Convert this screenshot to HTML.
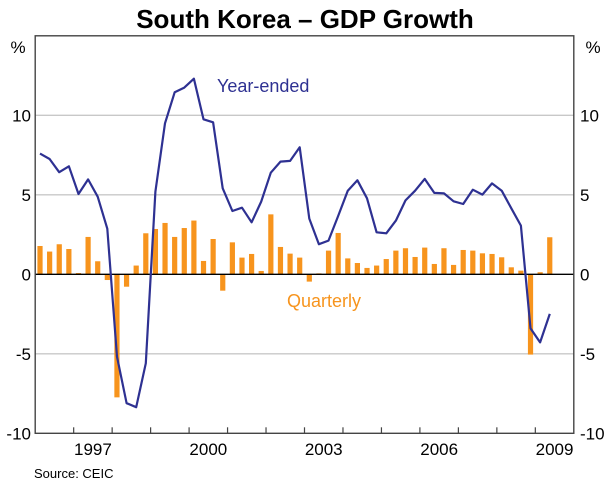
<!DOCTYPE html>
<html><head><meta charset="utf-8"><style>
html,body{margin:0;padding:0;background:#fff;}
svg{display:block;font-family:"Liberation Sans",Arial,sans-serif;}
</style></head><body>
<svg id="chart" width="610" height="485" viewBox="0 0 610 485" xmlns="http://www.w3.org/2000/svg">
<text x="305" y="28" text-anchor="middle" font-size="26" font-weight="bold" fill="#000">South Korea – GDP Growth</text>
<g id="grid"></g>
<g id="bars"></g>
<g id="lines"></g>
<g id="axes"></g>
<text x="217" y="92" font-size="18" fill="#2e3192">Year-ended</text>
<text x="287" y="307" font-size="18" fill="#f7941d">Quarterly</text>
<text x="34" y="478" font-size="13" fill="#000">Source: CEIC</text>
</svg>
<script>
const quarterly = [1.78,1.43,1.89,1.59,0.08,2.35,0.82,-0.36,-7.74,-0.78,0.55,2.58,2.85,3.23,2.35,2.91,3.38,0.84,2.22,-1.03,2.01,1.05,1.28,0.21,3.77,1.72,1.30,1.05,-0.46,0.06,1.49,2.6,1.0,0.71,0.4,0.55,0.96,1.49,1.64,1.09,1.68,0.65,1.64,0.59,1.53,1.49,1.32,1.28,1.07,0.44,0.23,-5.05,0.13,2.33];
const yearEnded = [7.59,7.25,6.42,6.79,5.05,5.97,4.88,2.87,-5.18,-8.11,-8.36,-5.6,5.2,9.5,11.45,11.74,12.3,9.75,9.56,5.41,3.98,4.19,3.27,4.57,6.39,7.09,7.13,7.99,3.5,1.89,2.12,3.67,5.26,5.91,4.78,2.64,2.58,3.38,4.65,5.26,6.0,5.12,5.09,4.59,4.42,5.32,5.01,5.72,5.26,4.15,3.06,-3.4,-4.28,-2.49];
const yTicks = [-10,-5,0,5,10];
const yearLabels = ["1997","2000","2003","2006","2009"];
const startYear = 1996, endYear = 2010;

const NS="http://www.w3.org/2000/svg";
const L=35.2,R=573.8,T=35.8,B=433.3,yMin=-10,yMax=15;
const yS=v=>T+(yMax-v)/(yMax-yMin)*(B-T);
const xYear=y=>L+(y-startYear)/(endYear-startYear)*(R-L);
const qW=(R-L)/((endYear-startYear)*4);
const xQ=i=>L+qW*(i+0.5);
function mk(tag,attrs,parent){const e=document.createElementNS(NS,tag);for(const k in attrs)e.setAttribute(k,attrs[k]);parent.appendChild(e);return e;}
const grid=document.getElementById('grid'),bars=document.getElementById('bars'),lines=document.getElementById('lines'),axes=document.getElementById('axes');

yTicks.forEach(v=>{
  if(v!==0&&v!==yMin){
    const g=mk('line',{x1:L,x2:R,y1:yS(v),y2:yS(v),stroke:'#c8c8c8','stroke-width':1.3},grid);
    
    
  }
  const tl=mk('text',{x:31,y:yS(v)+6,'text-anchor':'end','font-size':17,fill:'#000'},axes);
  tl.textContent=v;
  
  
  const tr=mk('text',{x:580,y:yS(v)+6,'text-anchor':'start','font-size':17,fill:'#000'},axes);
  tr.textContent=v;
  
  
});
['left','right'].forEach(s=>{
  const p=mk('text',{x:s==='left'?18:593,y:yS(yMax)+17,'text-anchor':'middle','font-size':17,fill:'#000'},axes);
  p.textContent='%';
  
  
});

quarterly.forEach((v,i)=>{
  const y0=yS(0),y1=yS(v);
  const r=mk('rect',{x:xQ(i)-2.6,y:Math.min(y0,y1),width:5.2,height:Math.abs(y1-y0),fill:'#f7941d'},bars);
  
  
});

const zl=mk('line',{x1:L,x2:R,y1:yS(0),y2:yS(0),stroke:'#000','stroke-width':1.3},lines);



const pl=mk('polyline',{points:yearEnded.map((v,i)=>xQ(i).toFixed(1)+','+yS(v).toFixed(1)).join(' '),fill:'none',stroke:'#2e3192','stroke-width':2.2,'stroke-linejoin':'round'},lines);



const fr=mk('rect',{x:L,y:T,width:R-L,height:B-T,fill:'none',stroke:'#444','stroke-width':1.4},axes);



for(let y=startYear+1;y<endYear;y++){
  const t=mk('line',{x1:xYear(y),x2:xYear(y),y1:B,y2:B-6,stroke:'#444','stroke-width':1.2},axes);
  
  
}
yearLabels.forEach(l=>{
  const y=+l;
  const t=mk('text',{x:(xYear(y)+xYear(y+1))/2,y:455,'text-anchor':'middle','font-size':17,fill:'#000'},axes);
  t.textContent=l;
  
  
});
</script>
</body></html>
